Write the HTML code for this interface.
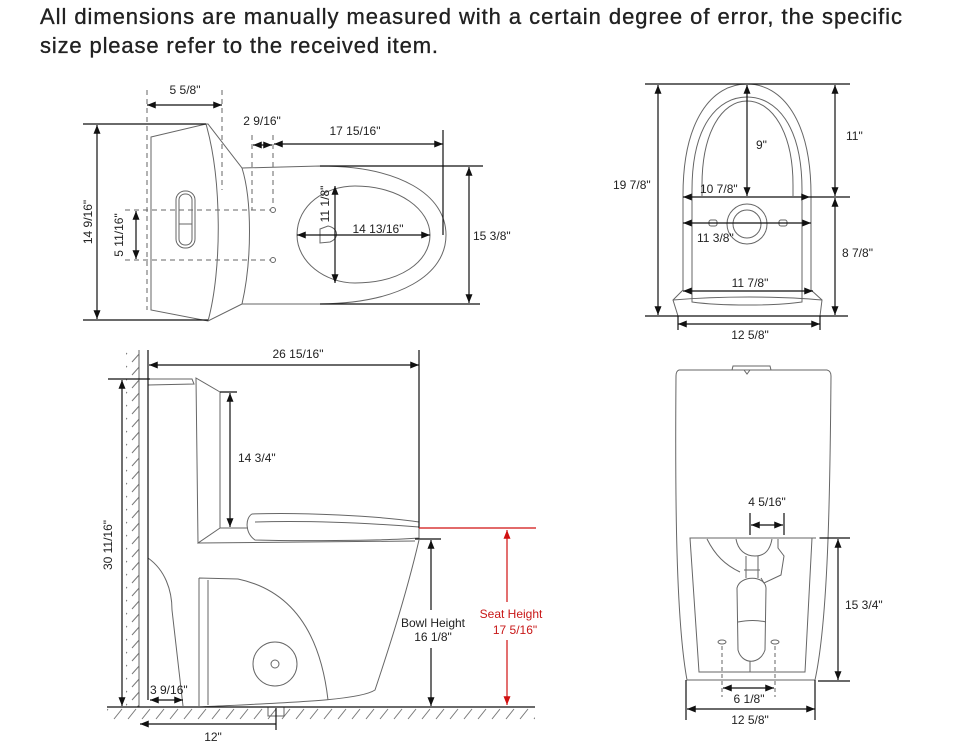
<!DOCTYPE html>
<html><head><meta charset="utf-8"><style>
html,body{margin:0;padding:0;background:#fff;}
svg{display:block;}
text{font-family:"Liberation Sans",sans-serif;fill:#222;}
</style></head><body>
<svg width="967" height="742" viewBox="0 0 967 742" xmlns="http://www.w3.org/2000/svg">
<defs>
<marker id="a" viewBox="0 0 10 8" refX="10" refY="4" markerWidth="10" markerHeight="7" orient="auto-start-reverse" markerUnits="userSpaceOnUse"><path d="M0,0 L10,4 L0,8 z" fill="#111"/></marker>
<marker id="r" viewBox="0 0 10 8" refX="10" refY="4" markerWidth="10" markerHeight="7" orient="auto-start-reverse" markerUnits="userSpaceOnUse"><path d="M0,0 L10,4 L0,8 z" fill="#d01010"/></marker>
<pattern id="h" width="13" height="13" patternUnits="userSpaceOnUse"><path d="M2,11 L10,2" stroke="#777" stroke-width="1"/></pattern>
<pattern id="hf" width="14" height="12" patternUnits="userSpaceOnUse"><path d="M2,11 L10,1" stroke="#777" stroke-width="1"/></pattern>
</defs>
<text x="40" y="24" font-size="22" textLength="862" fill="#111" stroke="#111" stroke-width="0.3">All dimensions are manually measured with a certain degree of error, the specific</text>
<text x="40" y="53" font-size="22" textLength="398" fill="#111" stroke="#111" stroke-width="0.3">size please refer to the received item.</text>

<g fill="none" stroke="#666" stroke-width="1">
<path d="M151,137 L206,124 L208,124 L242,168 C252,200 252,260 242,304 L208,321 L151,310 Z"/>
<path d="M206,124 C222,180 222,270 208,321"/>
<rect x="176" y="191" width="19" height="57" rx="9"/>
<rect x="179" y="194" width="13" height="51" rx="6"/>
<line x1="179" y1="224" x2="192" y2="224"/>
<path d="M242,168 L320,166 C400,166 446,195 446,235 C446,275 400,303 320,304 L242,304"/>
<path d="M297,235 C297,205 325,186 355,186 C400,186 430,210 430,235 C430,262 400,283 355,283 C325,283 297,262 297,235 Z"/>
<path d="M320,229 L328,226 C338,228 340,238 330,242 L320,243 Z"/>
<circle cx="273" cy="210" r="2.5"/><circle cx="273" cy="260" r="2.5"/>
</g>
<g fill="none" stroke="#666" stroke-width="1" stroke-dasharray="5,4">
<line x1="147" y1="90" x2="147" y2="310"/><line x1="222" y1="90" x2="222" y2="190"/>
<line x1="252" y1="135" x2="252" y2="210"/><line x1="273" y1="135" x2="273" y2="207"/>
<line x1="125" y1="210" x2="270" y2="210"/><line x1="125" y1="260" x2="270" y2="260"/>
</g>
<g stroke="#111" stroke-width="1.2" fill="none">
<line x1="147" y1="105" x2="222" y2="105" marker-start="url(#a)" marker-end="url(#a)"/>
<line x1="83" y1="124" x2="206" y2="124"/><line x1="83" y1="320" x2="208" y2="320"/>
<line x1="97" y1="125" x2="97" y2="319" marker-start="url(#a)" marker-end="url(#a)"/>
<line x1="136" y1="211" x2="136" y2="259" marker-start="url(#a)" marker-end="url(#a)"/>
<line x1="253" y1="145" x2="272" y2="145" marker-start="url(#a)" marker-end="url(#a)"/>
<line x1="274" y1="144" x2="443" y2="144" marker-start="url(#a)" marker-end="url(#a)"/>
<line x1="443" y1="130" x2="443" y2="235"/>
<line x1="335" y1="186" x2="335" y2="283" marker-start="url(#a)" marker-end="url(#a)"/>
<line x1="297" y1="235" x2="430" y2="235" marker-start="url(#a)" marker-end="url(#a)"/>
<line x1="320" y1="166" x2="483" y2="166"/><line x1="320" y1="304" x2="480" y2="304"/>
<line x1="469" y1="167" x2="469" y2="303" marker-start="url(#a)" marker-end="url(#a)"/>
</g>
<g font-size="12">
<text x="185" y="94" text-anchor="middle">5 5/8"</text>
<text x="262" y="125" text-anchor="middle">2 9/16"</text>
<text x="355" y="135" text-anchor="middle">17 15/16"</text>
<text x="378" y="233" text-anchor="middle">14 13/16"</text>
<text x="473" y="240">15 3/8"</text>
<text transform="translate(92,222) rotate(-90)" text-anchor="middle">14 9/16"</text>
<text transform="translate(123,235) rotate(-90)" text-anchor="middle">5 11/16"</text>
<text transform="translate(329,204) rotate(-90)" text-anchor="middle">11 1/8"</text>
</g>

<g fill="none" stroke="#666" stroke-width="1">
<path d="M683,290 L683,195 C683,120 712,84 747,84 C782,84 811,120 811,195 L811,290"/>
<path d="M692,288 L692,190 C692,125 718,97 747,97 C776,97 802,125 802,190 L802,288"/>
<path d="M702,196 L702,185 C702,132 722,101 747,101 C772,101 793,132 793,185 L793,196"/>
<path d="M683,290 L673,300 L678,316 M811,290 L822,300 L820,316"/>
<path d="M692,288 L692,302 C720,306 775,306 802,302 L802,288"/>
<path d="M673,300 C720,296 780,296 822,300"/>
<circle cx="747" cy="224" r="20"/><circle cx="747" cy="224" r="14"/>
<rect x="709" y="220" width="8" height="6" rx="2"/><rect x="779" y="220" width="8" height="6" rx="2"/>
</g>
<g stroke="#111" stroke-width="1.2" fill="none">
<line x1="645" y1="84" x2="850" y2="84"/><line x1="645" y1="316" x2="848" y2="316"/>
<line x1="810" y1="197" x2="850" y2="197"/>
<line x1="658" y1="85" x2="658" y2="315" marker-start="url(#a)" marker-end="url(#a)"/>
<line x1="835" y1="85" x2="835" y2="196" marker-start="url(#a)" marker-end="url(#a)"/>
<line x1="835" y1="198" x2="835" y2="315" marker-start="url(#a)" marker-end="url(#a)"/>
<line x1="747" y1="85" x2="747" y2="196" marker-start="url(#a)" marker-end="url(#a)"/>
<line x1="683" y1="197" x2="810" y2="197" marker-start="url(#a)" marker-end="url(#a)"/>
<line x1="683" y1="223" x2="811" y2="223" marker-start="url(#a)" marker-end="url(#a)"/>
<line x1="683" y1="291" x2="813" y2="291" marker-start="url(#a)" marker-end="url(#a)"/>
<line x1="678" y1="324" x2="820" y2="324" marker-start="url(#a)" marker-end="url(#a)"/>
<line x1="678" y1="316" x2="678" y2="330"/><line x1="820" y1="316" x2="820" y2="330"/>
</g>
<g font-size="12">
<text x="613" y="189">19 7/8"</text>
<text x="846" y="140">11"</text>
<text x="842" y="257">8 7/8"</text>
<text x="756" y="149">9"</text>
<text x="700" y="193">10 7/8"</text>
<text x="697" y="242">11 3/8"</text>
<text x="750" y="287" text-anchor="middle">11 7/8"</text>
<text x="750" y="339" text-anchor="middle">12 5/8"</text>
</g>

<rect x="126" y="350" width="13" height="357" fill="url(#h)"/>
<rect x="107" y="708" width="428" height="12" fill="url(#hf)"/>
<g fill="none" stroke="#666" stroke-width="1">
<line x1="139" y1="350" x2="139" y2="707"/>
<path d="M146,379 L192,379 L194,384 L148,385"/>
<path d="M148,383 L148,558 C165,570 172,590 172,610 L183,706"/>
<path d="M196,378 L220,392 L220,528 L198,543 Z"/>
<path d="M198,543 L415,541"/>
<path d="M220,528 L248,528"/>
<path d="M252,514 C300,512 380,516 419,522 L419,538 C380,541 290,541 255,540 C245,533 245,518 252,514 Z"/>
<path d="M255,522 C320,520 380,524 419,527"/>
<path d="M419,540 C405,600 385,660 375,690 C360,700 300,702 200,707"/>
<path d="M199,578 L238,579 C290,590 320,630 328,700 M208,580 L208,705 M199,578 L199,706"/>
<circle cx="275" cy="664" r="22"/><circle cx="275" cy="664" r="4"/>
<rect x="268" y="707" width="16" height="9"/>
</g>
<g stroke="#111" stroke-width="1.2" fill="none">
<line x1="148" y1="350" x2="148" y2="700"/>
<line x1="107" y1="707" x2="535" y2="707"/>
<line x1="149" y1="365" x2="419" y2="365" marker-start="url(#a)" marker-end="url(#a)"/>
<line x1="419" y1="350" x2="419" y2="528"/>
<line x1="108" y1="379" x2="150" y2="379"/>
<line x1="122" y1="380" x2="122" y2="706" marker-start="url(#a)" marker-end="url(#a)"/>
<line x1="220" y1="392" x2="237" y2="392"/>
<line x1="230" y1="393" x2="230" y2="527" marker-start="url(#a)" marker-end="url(#a)"/>
<line x1="150" y1="700" x2="183" y2="700" marker-start="url(#a)" marker-end="url(#a)"/>
<line x1="140" y1="724" x2="276" y2="724" marker-start="url(#a)"/>
<line x1="276" y1="708" x2="276" y2="730"/>
<line x1="415" y1="539" x2="441" y2="539"/>
<line x1="431" y1="540" x2="431" y2="610" marker-start="url(#a)"/>
<line x1="431" y1="648" x2="431" y2="706" marker-end="url(#a)"/>
</g>
<g stroke="#d01010" stroke-width="1.2" fill="none">
<line x1="419" y1="528" x2="536" y2="528"/>
<line x1="507" y1="530" x2="507" y2="602" marker-start="url(#r)"/>
<line x1="507" y1="640" x2="507" y2="705" marker-end="url(#r)"/>
</g>
<g font-size="12">
<text x="298" y="358" text-anchor="middle">26 15/16"</text>
<text x="238" y="462">14 3/4"</text>
<text transform="translate(112,545) rotate(-90)" text-anchor="middle">30 11/16"</text>
<text x="150" y="694">3 9/16"</text>
<text x="213" y="741" text-anchor="middle">12"</text>
<text x="433" y="627" text-anchor="middle">Bowl Height</text>
<text x="433" y="641" text-anchor="middle">16 1/8"</text>
<text x="511" y="618" text-anchor="middle" style="fill:#c81818">Seat Height</text>
<text x="515" y="634" text-anchor="middle" style="fill:#c81818">17 5/16"</text>
</g>

<g fill="none" stroke="#666" stroke-width="1">
<path d="M679,370 L827,370 Q831,371 831,376 C830,500 828,620 815,680 L687,680 C676,620 675,500 676,376 Q676,371 679,370 Z"/>
<path d="M732,370 L733,366 L770,366 L771,370 M744,370 L747,374 L750,370"/>
<path d="M690,538 L812,538 L805,672 L699,672 Z"/>
<path d="M707,539 C715,555 725,565 740,572 M736,539 C738,550 745,556 755,556 C765,556 770,550 772,539 M778,539 L778,548 L784,556 L781,575 L764,583 L761,578"/>
<path d="M746,556 L746,578 M758,556 L758,578 M744,570 L760,570"/>
<path d="M737,588 C740,575 765,575 766,588 L765,650 C760,665 742,665 738,650 Z"/>
<path d="M738,622 C748,620 758,620 766,622"/>
<line x1="750" y1="661" x2="750" y2="672"/>
<ellipse cx="722" cy="642" rx="4" ry="2"/><ellipse cx="775" cy="642" rx="4" ry="2"/>
</g>
<g fill="none" stroke="#666" stroke-width="1" stroke-dasharray="4,3">
<line x1="722" y1="646" x2="722" y2="697"/><line x1="775" y1="646" x2="775" y2="697"/>
<line x1="812" y1="538" x2="820" y2="538"/>
</g>
<g stroke="#111" stroke-width="1.2" fill="none">
<line x1="750" y1="513" x2="750" y2="535"/><line x1="784" y1="513" x2="784" y2="535"/>
<line x1="751" y1="525" x2="783" y2="525" marker-start="url(#a)" marker-end="url(#a)"/>
<line x1="820" y1="538" x2="850" y2="538"/><line x1="818" y1="681" x2="850" y2="681"/>
<line x1="838" y1="539" x2="838" y2="680" marker-start="url(#a)" marker-end="url(#a)"/>
<line x1="723" y1="688" x2="774" y2="688" marker-start="url(#a)" marker-end="url(#a)"/>
<line x1="686" y1="680" x2="686" y2="720"/><line x1="815" y1="680" x2="815" y2="720"/>
<line x1="687" y1="709" x2="815" y2="709" marker-start="url(#a)" marker-end="url(#a)"/>
</g>
<g font-size="12">
<text x="767" y="506" text-anchor="middle">4 5/16"</text>
<text x="845" y="609">15 3/4"</text>
<text x="749" y="703" text-anchor="middle">6 1/8"</text>
<text x="750" y="724" text-anchor="middle">12 5/8"</text>
</g>
</svg>
</body></html>
